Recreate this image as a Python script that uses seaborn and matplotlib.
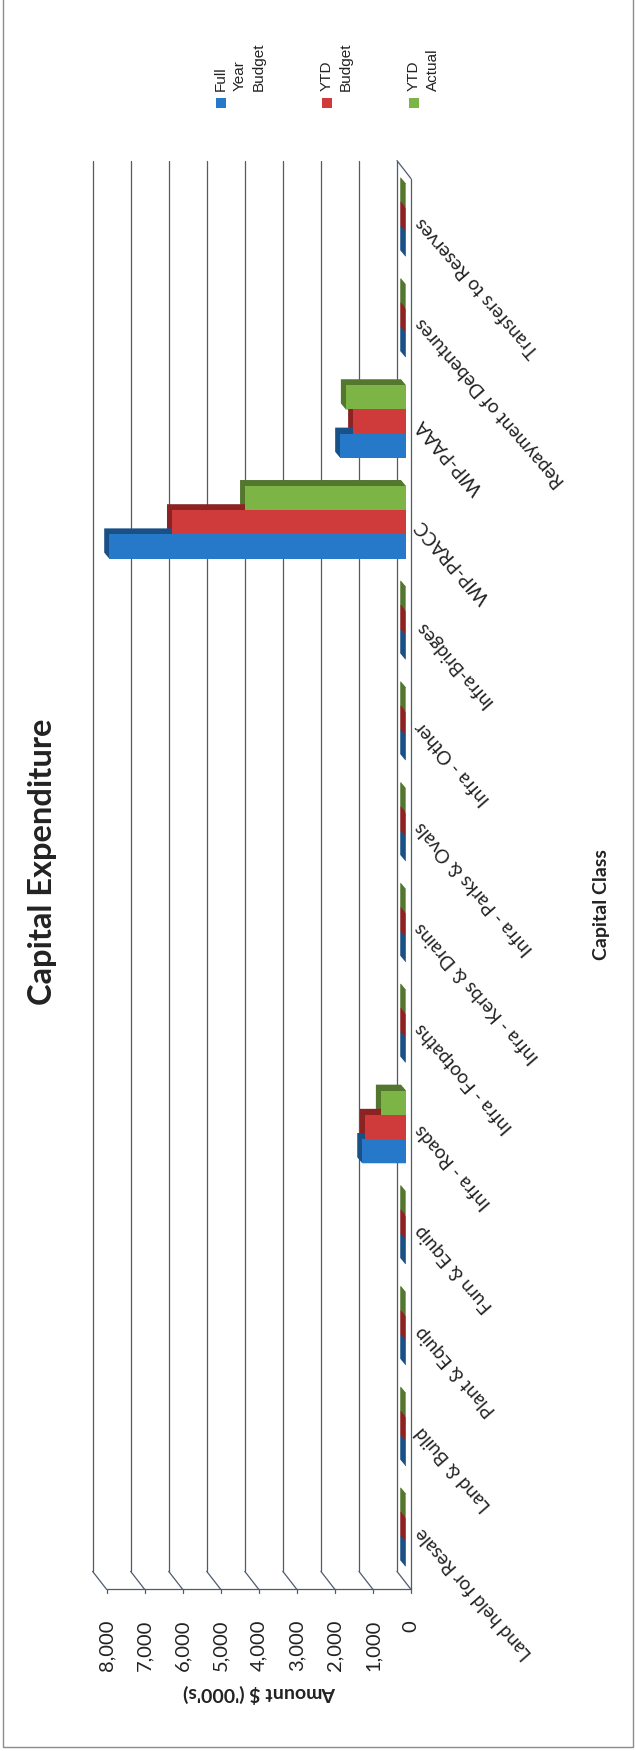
import colorsys

import matplotlib
matplotlib.use("Agg")
import matplotlib.pyplot as plt
import numpy as np
import pandas as pd
import seaborn as sns
from matplotlib.lines import Line2D
from matplotlib.patches import Polygon, Rectangle
from matplotlib.transforms import IdentityTransform, ScaledTranslation

# ---- data ($'000s) ----
categories = [
    "Land held for Resale", "Land & Build", "Plant & Equip", "Furn & Equip",
    "Infra - Roads", "Infra - Footpaths", "Infra - Kerbs & Drains",
    "Infra - Parks & Ovals", "Infra - Other", "Infra-Bridges", "WIP-PRACC",
    "WIP-PAAA", "Repayment of Debentures", "Transfers to Reserves",
]
full_year_budget = [20, 20, 20, 20, 1150, 20, 20, 20, 20, 20, 7800, 1730, 20, 20]
ytd_budget = [20, 20, 20, 20, 1080, 20, 20, 20, 20, 20, 6150, 1390, 20, 20]
ytd_actual = [20, 20, 20, 20, 660, 20, 20, 20, 20, 20, 4230, 1580, 20, 20]
series = ["Full Year Budget", "YTD Budget", "YTD Actual"]
legend_labels = ["Full\nYear\nBudget", "YTD\nBudget", "YTD\nActual"]
value_ticks = list(range(0, 8001, 1000))

colors = ["#2679c9", "#cf3a3a", "#7db446"]
grid_c = "#4e5b6e"
text_c = "#222222"

df = pd.DataFrame({
    "Capital Class": categories * 3,
    "Series": np.repeat(series, len(categories)),
    "Amount": full_year_budget + ytd_budget + ytd_actual,
})

sns.set_style("white")
plt.rcParams["font.family"] = ["Lato", "DejaVu Sans"]

W, H = 636, 1751
fig = plt.figure(figsize=(W / 100, H / 100), dpi=100)


def box(x0, y0, x1, y1):
    """Pixel box measured from the top-left corner -> figure fraction rect."""
    return [x0 / W, 1 - y1 / H, (x1 - x0) / W, (y1 - y0) / H]


ax = fig.add_axes(box(101.6, 169.6, 406, 1580.4))
ax.set_facecolor("none")

sns.barplot(
    data=df, y="Capital Class", x="Amount", hue="Series", orient="h",
    order=categories[::-1], hue_order=series[::-1],
    palette=dict(zip(series, colors)), width=0.72, saturation=1,
    errorbar=None, legend=False, linewidth=0, ax=ax, zorder=3,
)
ax.set_xlim(8000, 0)
ax.set_ylim(len(categories) - 0.5, -0.5)
ax.set_xlabel("")
ax.set_ylabel("")
for s in ax.spines.values():
    s.set_visible(False)
ax.grid(False)

# ---- 3-D extrusion behind each bar face ----
dx, dy = -5, 6
for patch in list(ax.patches):
    bb = patch.get_bbox()
    (xa, ya), (xb, yb) = ax.transData.transform([[bb.x0, bb.y0], [bb.x1, bb.y1]])
    left, right = min(xa, xb), max(xa, xb)
    bottom, top = min(ya, yb), max(ya, yb)
    r, g, b, _ = patch.get_facecolor()
    h, l, s = colorsys.rgb_to_hls(r, g, b)
    dark = colorsys.hls_to_rgb(h, l * 0.66, s)
    hexagon = [(left, bottom), (left + dx, bottom + dy), (left + dx, top + dy),
               (right + dx, top + dy), (right, top), (right, bottom)]
    ax.add_patch(Polygon(hexagon, closed=True, transform=IdentityTransform(),
                         facecolor=dark, edgecolor="none", zorder=2, clip_on=False))

# ---- back wall gridlines, floor edges and front baseline ----
xt = ax.get_xaxis_transform()
back = (-9, 9)
front = (5, -9)


def disp(v, yfrac, off):
    x, y = xt.transform((v, yfrac))
    return x + off[0], y + off[1]


def seg(p, q):
    ax.add_line(Line2D([p[0], q[0]], [p[1], q[1]], transform=IdentityTransform(),
                       color=grid_c, lw=0.9, zorder=1, clip_on=False))


for v in value_ticks:
    seg(disp(v, 0, back), disp(v, 1, back))
    seg(disp(v, 0, back), disp(v, 0, front))
    p = disp(v, 0, front)
    seg(p, (p[0], p[1] - 4))
seg(disp(8000, 0, front), disp(0, 0, front))
seg(disp(0, 0, front), disp(0, 1, front))
seg(disp(0, 1, back), disp(0, 1, front))

# ---- value axis labels ----
ax.set_xticks(value_ticks)
ax.set_xticklabels([f"{v:,}" for v in value_ticks])
ax.tick_params(axis="x", length=0, pad=28.5, labelsize=14.5, labelcolor=text_c)
shift = ScaledTranslation(0.05, 0, fig.dpi_scale_trans)
for lbl in ax.get_xticklabels():
    lbl.set_rotation(90)
    lbl.set_rotation_mode("default")
    lbl.set_ha("center")
    lbl.set_va("top")
    lbl.set_transform(lbl.get_transform() + shift)

# ---- category labels ----
ax.yaxis.tick_right()
ax.tick_params(axis="y", length=0, pad=9, labelsize=13.5, labelcolor=text_c)
for lbl in ax.get_yticklabels():
    lbl.set_rotation(131)
    lbl.set_rotation_mode("anchor")
    lbl.set_ha("right")
    lbl.set_va("center")

# ---- titles ----
fig.text(43 / W, 1 - 862 / H, "Capital Expenditure", rotation=90, ha="center",
         va="center", fontsize=23.5, fontweight="bold", color=text_c)
fig.text(601 / W, 1 - 905 / H, "Capital Class", rotation=90, ha="center",
         va="center", fontsize=14, fontweight="bold", color=text_c)
fig.text(260 / W, 1 - 1694 / H, "Amount $ ('000's)", rotation=180, ha="center",
         va="center", fontsize=14, fontweight="bold", color=text_c)

# ---- legend ----
for sx, lab, col in zip([221, 327, 414], legend_labels, colors):
    fig.add_artist(Rectangle(((sx - 5) / W, 1 - 108 / H), 10 / W, 10 / H,
                             transform=fig.transFigure, facecolor=col,
                             edgecolor="none"))
    fig.text((sx - 7) / W, 1 - 91 / H, lab, rotation=90, ha="left", va="bottom",
             multialignment="left", linespacing=1.45, fontsize=11,
             family=["Liberation Sans", "DejaVu Sans"], color=text_c)

# ---- outer frame ----
fig.add_artist(Rectangle((3 / W, 1 - 1747 / H), 630 / W, 1747 / H + 0.01,
                         transform=fig.transFigure, fill=False,
                         edgecolor="#8c8c8c", lw=1.0))

fig.savefig("out.png", dpi=100)
